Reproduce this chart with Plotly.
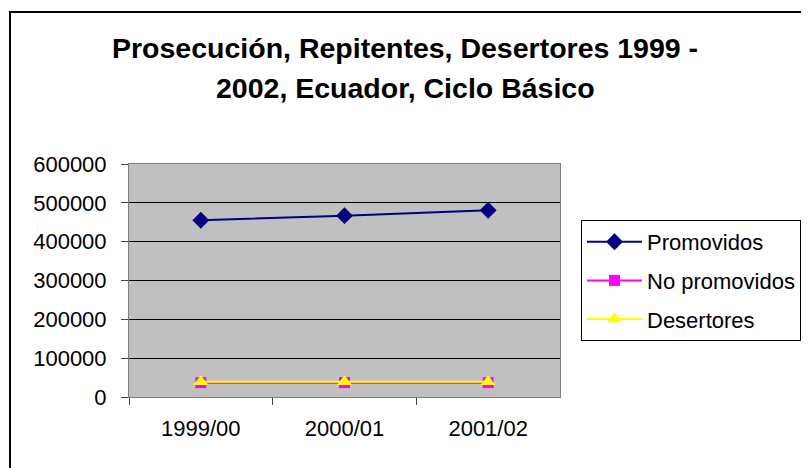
import plotly.graph_objects as go

W, H = 809, 468
OFF = 8  # page offset of the figure inside the browser window


def fx(px):
    return (px - OFF) / W


def fy(py):
    return 1 - (py - OFF) / H


years = ["1999/00", "2000/01", "2001/02"]
promovidos = [455000, 467000, 481000]
no_promovidos = [37000, 37000, 37000]
desertores = [39000, 39000, 39000]
title_lines = ["Prosecución, Repitentes, Desertores 1999 -", "2002, Ecuador, Ciclo Básico"]

fig = go.Figure()
fig.add_trace(go.Scatter(x=years, y=promovidos, name="Promovidos", mode="lines+markers",
                         legendgroup="a",
                         line=dict(color="#000080", width=2),
                         marker=dict(symbol="diamond", size=13, color="#000080")))
fig.add_trace(go.Scatter(x=years, y=no_promovidos, name="No promovidos", mode="lines+markers",
                         legendgroup="b",
                         line=dict(color="#FF00FF", width=2),
                         marker=dict(symbol="square", size=11, color="#FF00FF")))
fig.add_trace(go.Scatter(x=years, y=desertores, name="Desertores", mode="lines+markers",
                         legendgroup="c",
                         line=dict(color="#FFFF00", width=2),
                         marker=dict(symbol="triangle-up", size=13, color="#FFFF00")))

fig.update_layout(
    width=W, height=H,
    margin=dict(l=0, r=0, t=0, b=0),
    paper_bgcolor="white", plot_bgcolor="#C0C0C0",
    font=dict(family="Liberation Sans, Arial", size=22, color="black"),
    xaxis=dict(domain=[fx(129), fx(560)], range=[-0.5, 2.5], automargin=False,
               showgrid=False, ticks="outside", tickson="boundaries",
               ticklen=7, tickcolor="#404040", showline=True, linecolor="#808080", linewidth=1,
               mirror=True, ticklabelstandoff=12),
    yaxis=dict(domain=[fy(397), fy(164)], range=[0, 600000], dtick=100000,
               automargin=False, tickformat="d", showgrid=True, gridcolor="black", gridwidth=1,
               ticks="outside", ticklen=7, tickcolor="#404040", showline=True,
               linecolor="#808080", linewidth=1, mirror=True, zeroline=False,
               ticklabelstandoff=10),
    legend=dict(x=fx(581), xanchor="left", y=fy(220), yanchor="top",
                bordercolor="black", borderwidth=1, bgcolor="white",
                font=dict(size=22), itemwidth=55, tracegroupgap=7),
    showlegend=True,
)

for text, yc in zip(title_lines, [48, 88]):
    fig.add_annotation(text="<b>" + text + "</b>", xref="paper", yref="paper",
                       x=fx(405), y=fy(yc), xanchor="center", yanchor="middle",
                       showarrow=False, font=dict(size=28.5, color="black"))

fig.add_shape(type="rect", xref="paper", yref="paper",
              x0=fx(10), x1=1.05, y0=-0.05, y1=fy(12),
              line=dict(color="black", width=2))

fig.write_html("out.html")
